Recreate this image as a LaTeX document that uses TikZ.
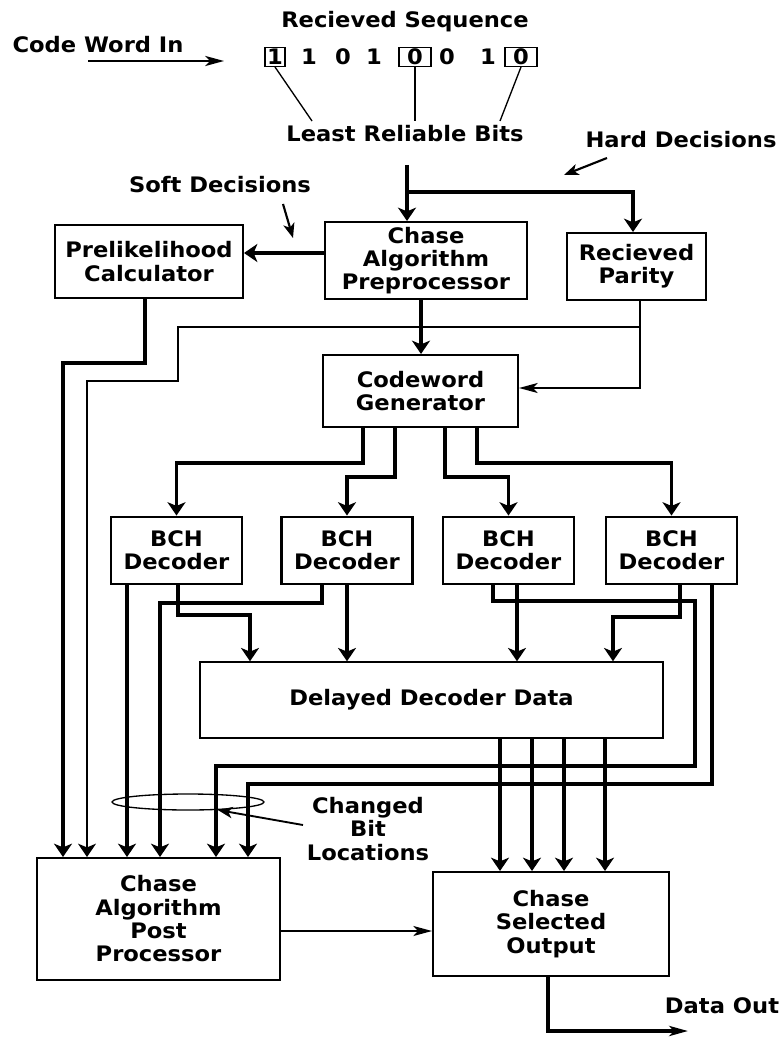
\documentclass[tikz,border=0pt]{standalone}
\usepackage{fontspec}
\setmainfont{DejaVu Sans}[FakeStretch=1.06]
\usetikzlibrary{arrows.meta,shapes.geometric}
\begin{document}
\begin{tikzpicture}[x=0.75pt,y=-0.75pt,
  every node/.style={font=\bfseries\fontsize{16pt}{17.5pt}\selectfont},
  box/.style={draw, line width=1.5pt, inner sep=0pt, align=center},
  bch/.style={box, line width=2.2pt, minimum width=98.25pt, minimum height=50.25pt},
  lbl/.style={inner sep=0pt, anchor=base},
  bit/.style={inner sep=0pt},
  bitbox/.style={draw, line width=1pt, inner sep=0pt, minimum height=14pt},
  thk/.style={line width=2.8pt},
  thn/.style={line width=1.1pt},
  tip/.style={-{Stealth[length=10pt,width=13.5pt,inset=2.8pt]}},
  ltip/.style={-{Stealth[length=14pt,width=7.5pt,inset=3.5pt]}},
  mtip/.style={-{Stealth[length=11pt,width=8.5pt,inset=3pt]}},
]
\fill[white] (0,0) rectangle (783,1037);
\useasboundingbox (0,0) rectangle (783,1037);

% ---- top labels and bit sequence
\node[lbl] (title) at (405,28) {Recieved Sequence};
\node[lbl] (cwin) at (98,53) {Code Word In};
\coordinate (cwa) at (88,61);
\coordinate (cwb) at (224,61);
\draw[line width=1.6pt, ltip] (cwa) -- (cwb);

\node[bit, bitbox, minimum width=15pt] (b1) at (275,57) {1};
\node[bit] (b2) at (309,57) {1};
\node[bit] (b3) at (343,57) {0};
\node[bit] (b4) at (374,57) {1};
\node[bit, bitbox, minimum width=24pt] (b5) at (415,57) {0};
\node[bit] (b6) at (447,57) {0};
\node[bit] (b7) at (488,57) {1};
\node[bit, bitbox, minimum width=24pt] (b8) at (521,57) {0};

\node[lbl] (lrb) at (405,142) {Least Reliable Bits};
\coordinate (l1) at (312,121);
\coordinate (l2) at (415,121);
\coordinate (l3) at (500,121);
\draw[line width=1pt] (b1.south) -- (l1);
\draw[line width=1pt] (b5.south) -- (l2);
\draw[line width=1pt] (b8.south) -- (l3);

\node[lbl] (hard) at (681,148) {Hard Decisions};
\coordinate (hda) at (607,158);
\coordinate (hdb) at (564,175);
\draw[line width=1.6pt, mtip] (hda) -- (hdb);

\node[lbl] (soft) at (220,193) {Soft Decisions};
\coordinate (sda) at (283,204);
\coordinate (sdb) at (293,238);
\draw[line width=1.6pt, mtip] (sda) -- (sdb);

% ---- blocks
\node[box, minimum width=141pt, minimum height=54.75pt] (prelik) at (149,261.5) {Prelikelihood\\Calculator};
\node[box, minimum width=151.5pt, minimum height=57.75pt] (pre) at (426,260.5) {Chase\\Algorithm\\Preprocessor};
\node[box, minimum width=104.25pt, minimum height=50.25pt] (par) at (636.5,266.5) {Recieved\\Parity};
\node[box, minimum width=146.25pt, minimum height=54pt] (cw) at (420.5,391) {Codeword\\Generator};
\node[bch] (bch1) at (176.5,550.5) {BCH\\Decoder};
\node[bch] (bch2) at (347,550.5) {BCH\\Decoder};
\node[bch] (bch3) at (508.5,550.5) {BCH\\Decoder};
\node[bch] (bch4) at (671.5,550.5) {BCH\\Decoder};
\node[box, line width=1.1pt, minimum width=347.25pt, minimum height=57pt] (del) at (431.5,700) {Delayed Decoder Data};
\node[box, minimum width=182.25pt, minimum height=91.5pt] (post) at (158.5,919) {Chase\\Algorithm\\Post\\Processor};
\node[box, minimum width=177pt, minimum height=78pt] (sel) at (551,924) {Chase\\Selected\\Output};

% ---- connectors, upper part
\coordinate (src) at (407,165);
\coordinate (hdj) at (407,192);
\draw[thk, tip] (src) -- (pre.north -| src);
\draw[thk, tip] (hdj) -| (par.north -| 633,0);
\draw[thk, tip] (pre.west |- 0,253) -- (prelik.east |- 0,253);
\draw[thk, tip] (pre.south -| 421,0) -- (cw.north -| 421,0);
\draw[thn, ltip] (par.south -| 640,0) |- (cw.east |- 0,388);
\coordinate (pj) at (640,327);
\draw[thn, tip] (pj) -- (178,327) -- (178,381) -- (87,381) -- (post.north -| 87,0);
\draw[thk, tip] (prelik.south -| 145,0) |- (63,363) -- (post.north -| 63,0);

% ---- codeword generator to decoders
\draw[thk, tip] (cw.south -| 363,0) -- (363,463) -| (bch1.north);
\draw[thk, tip] (cw.south -| 395,0) -- (395,477) -| (bch2.north);
\draw[thk, tip] (cw.south -| 445,0) -- (445,477) -| (bch3.north);
\draw[thk, tip] (cw.south -| 477,0) -- (477,463) -| (bch4.north);

% ---- decoder outputs
\draw[thk, tip] (bch1.south -| 127,0) -- (post.north -| 127,0);
\draw[thk, tip] (bch1.south -| 178,0) -- (178,615) -| (del.north -| 250,0);
\draw[thk, tip] (bch2.south -| 322,0) -- (322,603) -| (post.north -| 160,0);
\draw[thk, tip] (bch2.south) -- (del.north -| bch2.south);
\draw[thk, tip] (bch3.south -| 493,0) -- (493,601) -| (695,766) -| (post.north -| 216,0);
\draw[thk, tip] (bch3.south -| 517,0) -- (del.north -| 517,0);
\draw[thk, tip] (bch4.south -| 680,0) -- (680,617) -| (del.north -| 613,0);
\draw[thk, tip] (bch4.south -| 712,0) -- (712,784) -| (post.north -| 248,0);

% ---- delayed data to selected output
\foreach \x in {500,532,564,605}
  \draw[thk, tip] (del.south -| \x,0) -- (sel.north -| \x,0);

\draw[thn, ltip] (post.east |- 0,931) -- (sel.west |- 0,931);
\coordinate (dout) at (688,1031);
\draw[thk, ltip] (sel.south -| 548,0) |- (dout);
\node[lbl] (dataout) at (722,1013) {Data Out};

% ---- changed bit locations
\node[draw, ellipse, line width=1pt, minimum width=114pt, minimum height=12pt, inner sep=0pt] (ell) at (188,802) {};
\node[align=center, inner sep=0pt] (chg) at (368,829) {Changed\\Bit\\Locations};
\coordinate (chgt) at (303,825);
\draw[line width=1.4pt, mtip] (chgt) -- (ell.-15);
\end{tikzpicture}
\end{document}
